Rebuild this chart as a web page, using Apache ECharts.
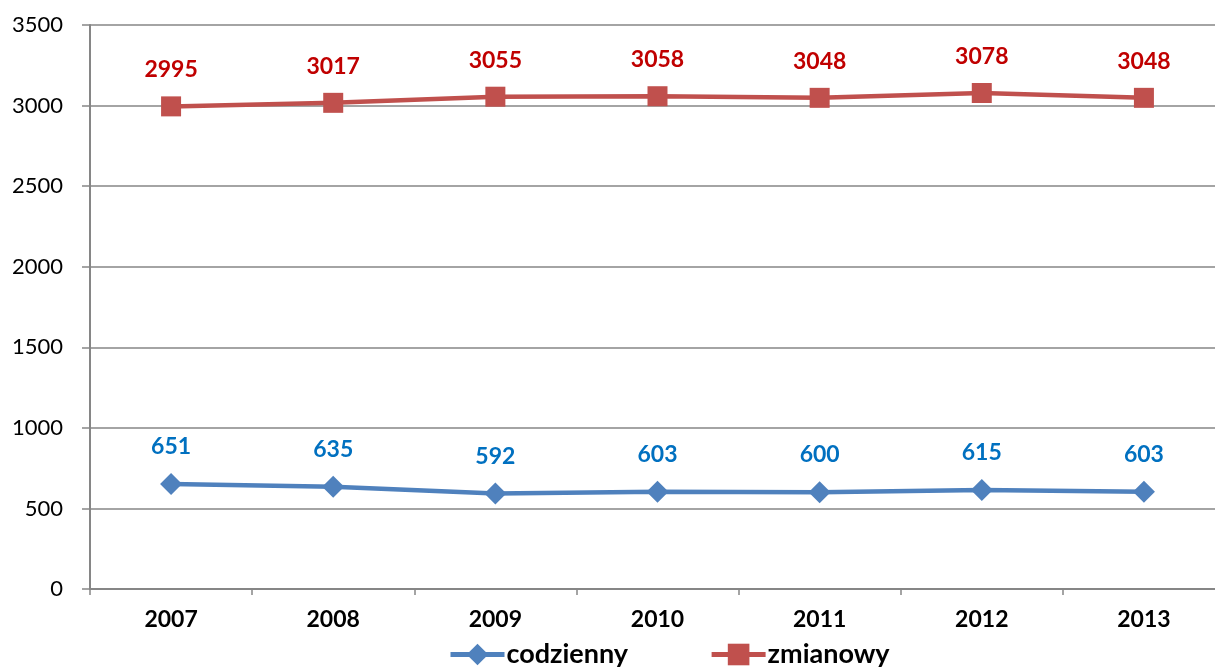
<!DOCTYPE html>
<html>
<head>
<meta charset="utf-8">
<script src="https://cdn.jsdelivr.net/npm/echarts@6/dist/echarts.min.js"></script>
<style>
  html, body { margin: 0; padding: 0; background: #fff; overflow: hidden; }
  #chart { width: 1225px; height: 668px; }
</style>
</head>
<body>
<div id="chart"></div>
<script>
// Years on the category axis
const years = ['2007', '2008', '2009', '2010', '2011', '2012', '2013'];
// Student counts per study mode
const codzienny = [651, 635, 592, 603, 600, 615, 603];
const zmianowy = [2995, 3017, 3055, 3058, 3048, 3078, 3048];
// Value axis range
const yMin = 0;
const yMax = 3500;
const yStep = 500;

const FONT = 'Lato';
const axisGray = '#868686';

const chart = echarts.init(document.getElementById('chart'));
chart.setOption({
  animation: false,
  textStyle: { fontFamily: FONT },
  // plot area runs slightly past the right edge of the visible page
  grid: { left: 90, right: 0, top: 25, bottom: 79, containLabel: false },
  legend: {
    bottom: -5,
    left: 443,
    itemGap: 81,
    itemWidth: 54,
    itemHeight: 27,
    lineStyle: { width: 5 },
    textStyle: { fontFamily: FONT, fontWeight: 'bold', fontSize: 27, color: '#000', padding: [0, 0, 0, -3] },
    data: ['codzienny', 'zmianowy']
  },
  xAxis: {
    type: 'category',
    data: years,
    boundaryGap: true,
    axisLine: { lineStyle: { color: axisGray, width: 2 } },
    axisTick: { show: true, length: 6, lineStyle: { color: axisGray, width: 1.5 } },
    axisLabel: { fontFamily: FONT, fontWeight: 'bold', fontSize: 23, color: '#000', margin: 19 }
  },
  yAxis: {
    type: 'value',
    min: yMin,
    max: yMax,
    interval: yStep,
    axisLine: { show: true, lineStyle: { color: axisGray, width: 2 } },
    axisTick: { show: true, length: 8, lineStyle: { color: axisGray, width: 1.5 } },
    splitLine: { lineStyle: { color: axisGray, width: 1.5 } },
    axisLabel: {
      fontFamily: FONT, fontSize: 22, color: '#000', margin: 27,
      formatter: v => String(v)
    }
  },
  series: [
    {
      name: 'codzienny',
      type: 'line',
      data: codzienny,
      symbol: 'diamond',
      symbolSize: 22,
      lineStyle: { color: '#4F81BD', width: 4.5 },
      itemStyle: { color: '#4F81BD' },
      label: {
        show: true,
        position: 'top',
        distance: 15,
        fontFamily: FONT,
        fontWeight: 'bold',
        fontSize: 23,
        color: '#0070C0'
      }
    },
    {
      name: 'zmianowy',
      type: 'line',
      data: zmianowy,
      symbol: 'rect',
      symbolSize: 20,
      lineStyle: { color: '#C0504D', width: 4.5 },
      itemStyle: { color: '#C0504D' },
      label: {
        show: true,
        position: 'top',
        distance: 15,
        fontFamily: FONT,
        fontWeight: 'bold',
        fontSize: 23,
        color: '#C00000'
      }
    }
  ]
});
</script>
</body>
</html>
